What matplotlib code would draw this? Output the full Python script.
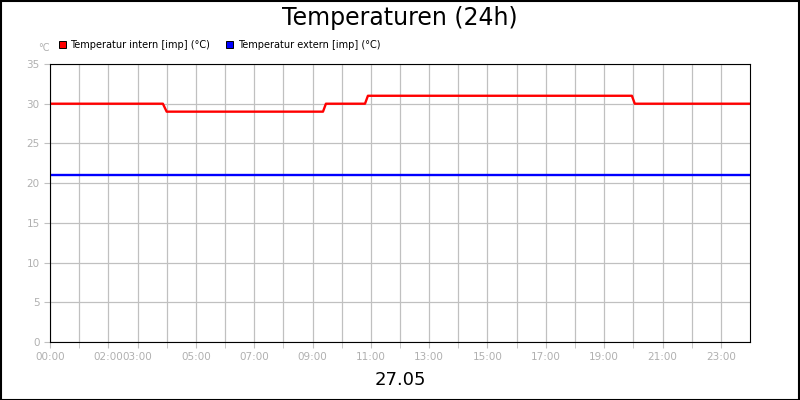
import matplotlib
matplotlib.use("Agg")
import matplotlib.pyplot as plt
from matplotlib.patches import Rectangle

intern_t = [0, 3.87, 4.0, 9.36, 9.46, 10.8, 10.9, 19.95, 20.05, 24]
intern_v = [30, 30, 29, 29, 30, 30, 31, 31, 30, 30]
extern_t = [0, 24]
extern_v = [21, 21]
tick_hours = [0, 2, 3, 5, 7, 9, 11, 13, 15, 17, 19, 21, 23]
tick_labels = ["%02d:00" % h for h in tick_hours]
yticks = [0, 5, 10, 15, 20, 25, 30, 35]

fig = plt.figure(figsize=(8, 4), dpi=100)
fig.patch.set_facecolor("white")
fig.add_artist(Rectangle((0.001, 0.001), 0.998, 0.997, transform=fig.transFigure,
                         fill=False, edgecolor="black", linewidth=1.5))
ax = fig.add_axes([50/800, 1-342/400, 700/800, (342-64)/400])
ax.set_xlim(0, 24)
ax.set_ylim(0, 35)
ax.set_xticks(tick_hours, tick_labels)
ax.set_xticks(range(1, 24), minor=True)
ax.set_yticks(yticks)
ax.grid(True, which="both", color="#c0c0c0", linewidth=0.9)
ax.set_axisbelow(True)
ax.tick_params(axis="both", which="both", colors="#c0c0c0", labelcolor="#b0b0b0",
               labelsize=7.5, length=4)
for s in ax.spines.values():
    s.set_color("black")
ax.plot(intern_t, intern_v, color="#ff0000", linewidth=1.7)
ax.plot(extern_t, extern_v, color="#0000ff", linewidth=1.7)

fig.text(0.5, 0.955, "Temperaturen (24h)", ha="center", va="center", fontsize=17)
fig.text(0.5, 0.05, "27.05", ha="center", va="center", fontsize=13)
fig.text(38/800, 1-48/400, "°C", ha="left", va="center", fontsize=7, color="#b0b0b0")
fig.add_artist(Rectangle((59/800, 1-48/400), 7/800, 7/400, facecolor="#ff0000",
                         edgecolor="black", linewidth=0.7, transform=fig.transFigure))
fig.text(70/800, 1-45/400, "Temperatur intern [imp] (°C)", fontsize=7, va="center")
fig.add_artist(Rectangle((226/800, 1-48/400), 7/800, 7/400, facecolor="#0000ff",
                         edgecolor="black", linewidth=0.7, transform=fig.transFigure))
fig.text(238/800, 1-45/400, "Temperatur extern [imp] (°C)", fontsize=7, va="center")

fig.savefig("out.png", dpi=100)
